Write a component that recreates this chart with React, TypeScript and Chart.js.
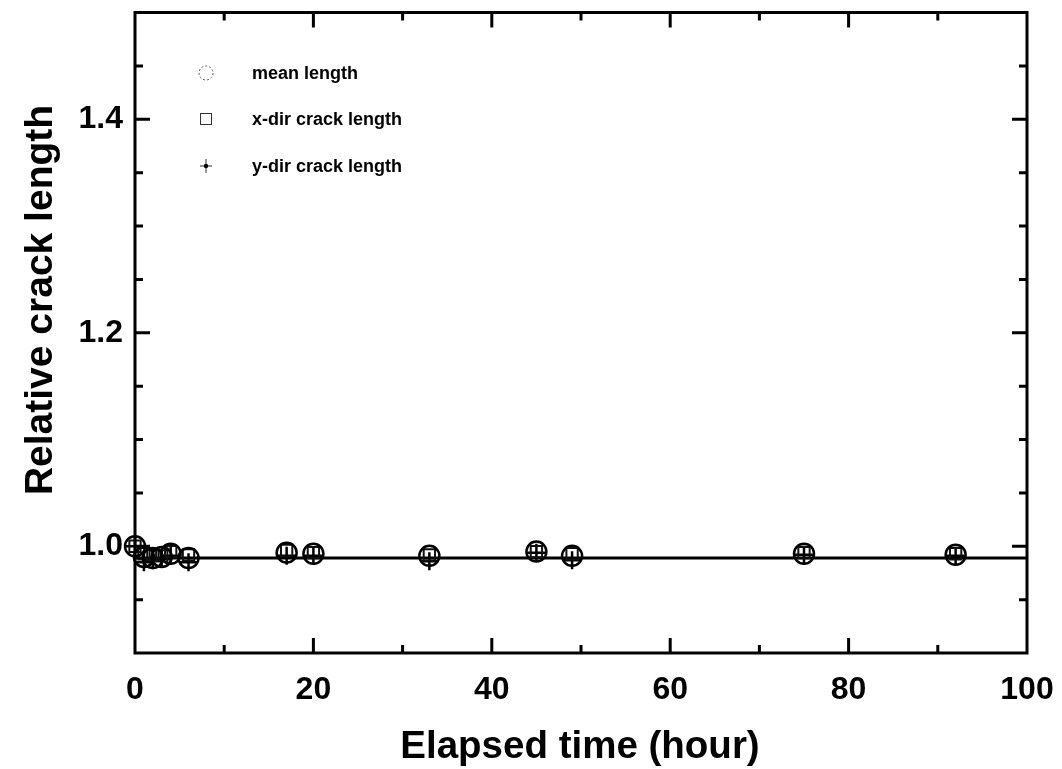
import React, { useEffect, useRef } from "react";
import { Chart, registerables } from "chart.js";

Chart.register(...registerables);

const elapsedHours = [0, 1, 2, 3, 4, 6, 17, 20, 33, 45, 49, 75, 92];
const meanLength = [1.0, 0.99, 0.989, 0.99, 0.993, 0.989, 0.994, 0.993, 0.991, 0.995, 0.991, 0.993, 0.992];
const xDirLength = [1.0, 0.993, 0.992, 0.991, 0.995, 0.992, 0.996, 0.994, 0.992, 0.995, 0.993, 0.994, 0.993];
const yDirLength = [1.0, 0.985, 0.987, 0.988, 0.991, 0.985, 0.991, 0.991, 0.986, 0.994, 0.987, 0.992, 0.991];
const fitX = [0, 100];
const fitY = [0.989, 0.989];
const seriesNames = ["mean length", "x-dir crack length", "y-dir crack length"];
const xTitle = "Elapsed time (hour)";
const yTitle = "Relative crack length";

const FONT = "'Liberation Sans', Arial, Helvetica, sans-serif";

const pts = (xs: number[], ys: number[]) => xs.map((x, i) => ({ x, y: ys[i] }));

const isMajorY = (v: number) => {
  const t = Math.round(v * 10);
  return Math.abs(v * 10 - t) < 1e-6 && t % 2 === 0 && v > 0.95 && v < 1.45;
};
const isMajorX = (v: number) => Math.abs(v % 20) < 1e-6;

const framePlugin = {
  id: "frame",
  afterDraw(chart: any) {
    const { ctx, chartArea: a, scales } = chart;
    const xs = scales.x;
    const ys = scales.y;
    ctx.save();
    ctx.strokeStyle = "#000";
    ctx.lineWidth = 3;
    ctx.lineCap = "square";
    ctx.strokeRect(a.left, a.top, a.right - a.left, a.bottom - a.top);
    ctx.lineCap = "butt";
    ctx.lineWidth = 3;
    ctx.beginPath();
    xs.ticks.forEach((t: any) => {
      const v = t.value;
      if (v <= 0 || v >= 100) return;
      const px = xs.getPixelForValue(v);
      const len = isMajorX(v) ? 15 : 8;
      ctx.moveTo(px, a.bottom);
      ctx.lineTo(px, a.bottom - len);
      ctx.moveTo(px, a.top);
      ctx.lineTo(px, a.top + len);
    });
    ys.ticks.forEach((t: any) => {
      const v = t.value;
      if (v <= 0.9001 || v >= 1.4999) return;
      const py = ys.getPixelForValue(v);
      const len = isMajorY(v) ? 15 : 8;
      ctx.moveTo(a.left, py);
      ctx.lineTo(a.left + len, py);
      ctx.moveTo(a.right, py);
      ctx.lineTo(a.right - len, py);
    });
    ctx.stroke();

    // axis titles
    ctx.fillStyle = "#000";
    ctx.font = `bold 38.5px ${FONT}`;
    ctx.textAlign = "center";
    ctx.textBaseline = "alphabetic";
    ctx.fillText(xTitle, (a.left + a.right) / 2 - 1, 758);
    ctx.save();
    ctx.translate(52, 300);
    ctx.rotate(-Math.PI / 2);
    ctx.font = `bold 39px ${FONT}`;
    ctx.fillText(yTitle, 0, 0);
    ctx.restore();

    // legend
    const lx = 206;
    const tx = 252;
    const rows = [73, 119, 166];
    ctx.font = `bold 18px ${FONT}`;
    ctx.textAlign = "left";
    ctx.textBaseline = "middle";
    seriesNames.forEach((n, i) => ctx.fillText(n, tx, rows[i] + 1));
    ctx.strokeStyle = "#555";
    ctx.lineWidth = 1;
    ctx.setLineDash([2, 2]);
    ctx.beginPath();
    ctx.arc(lx, rows[0], 7, 0, Math.PI * 2);
    ctx.stroke();
    ctx.setLineDash([]);
    ctx.strokeStyle = "#333";
    ctx.strokeRect(lx - 5.5, rows[1] - 5.5, 11, 11);
    ctx.beginPath();
    ctx.moveTo(lx - 6, rows[2]);
    ctx.lineTo(lx + 6, rows[2]);
    ctx.moveTo(lx, rows[2] - 7);
    ctx.lineTo(lx, rows[2] + 7);
    ctx.stroke();
    ctx.fillStyle = "#000";
    ctx.beginPath();
    ctx.arc(lx, rows[2], 2.2, 0, Math.PI * 2);
    ctx.fill();
    ctx.restore();
  },
};

export default function App() {
  const ref = useRef<HTMLCanvasElement | null>(null);
  useEffect(() => {
    if (!ref.current) return;
    const chart = new Chart(ref.current, {
      type: "scatter",
      data: {
        datasets: [
          {
            label: seriesNames[0],
            data: pts(elapsedHours, meanLength),
            pointStyle: "circle",
            pointRadius: 10,
            pointBorderWidth: 2.5,
            borderColor: "#000",
            backgroundColor: "rgba(0,0,0,0)",
            clip: false,
          },
          {
            label: seriesNames[1],
            data: pts(elapsedHours, xDirLength),
            pointStyle: "rect",
            pointRadius: 8,
            pointBorderWidth: 2,
            borderColor: "#111",
            backgroundColor: "rgba(0,0,0,0)",
            clip: false,
          },
          {
            label: seriesNames[2],
            data: pts(elapsedHours, yDirLength),
            pointStyle: "cross",
            pointRadius: 9,
            pointBorderWidth: 2.5,
            borderColor: "#000",
            backgroundColor: "#000",
            clip: false,
          },
          {
            type: "line",
            label: "fit",
            data: pts(fitX, fitY),
            borderColor: "#000",
            borderWidth: 3,
            pointRadius: 0,
            showLine: true,
          } as any,
        ],
      },
      options: {
        animation: false,
        responsive: true,
        maintainAspectRatio: false,
        layout: { padding: { top: 10, right: 35, left: 0, bottom: 0 } },
        plugins: { legend: { display: false }, tooltip: { enabled: false } },
        scales: {
          x: {
            type: "linear",
            min: 0,
            max: 100,
            grid: { display: false, drawTicks: false },
            border: { display: false },
            ticks: {
              stepSize: 10,
              autoSkip: false,
              maxRotation: 0,
              padding: 18,
              color: "#000",
              font: { family: FONT, size: 32, weight: "bold" },
              callback: (v: any) => (isMajorX(Number(v)) ? String(v) : ""),
            },
            afterFit: (s: any) => {
              s.height = 116;
              s.paddingLeft = 0;
              s.paddingRight = 0;
            },
          },
          y: {
            type: "linear",
            min: 0.9,
            max: 1.5,
            grid: { display: false, drawTicks: false },
            border: { display: false },
            ticks: {
              stepSize: 0.05,
              autoSkip: false,
              padding: 12,
              color: "#000",
              font: { family: FONT, size: 32, weight: "bold" },
              callback: (v: any) => (isMajorY(Number(v)) ? Number(v).toFixed(1) : ""),
            },
            afterFit: (s: any) => {
              s.width = 135;
              s.paddingTop = 0;
              s.paddingBottom = 0;
            },
          },
        },
      },
      plugins: [framePlugin],
    });
    return () => chart.destroy();
  }, []);
  return (
    <div style={{ position: "fixed", left: 0, top: 0, width: 1062, height: 769, background: "#fff" }}>
      <canvas ref={ref} />
    </div>
  );
}
